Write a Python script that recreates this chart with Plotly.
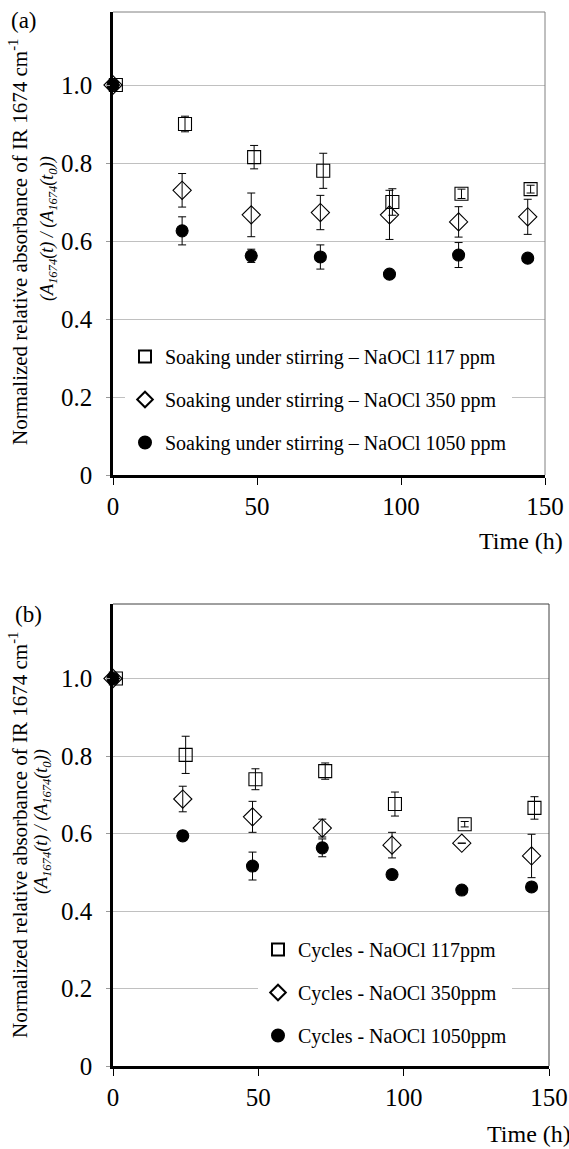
import plotly.graph_objects as go

# ---------------- data ----------------
# panel (a): soaking under stirring
a_t_sq = [1, 25, 49, 73, 97, 121, 145]
a_t = [0, 24, 48, 72, 96, 120, 144]
a_117 = [1.00, 0.90, 0.815, 0.78, 0.70, 0.721, 0.733]
a_117_err = [None, 0.02, 0.03, 0.045, 0.034, 0.012, 0.010]
a_350 = [1.00, 0.730, 0.667, 0.673, 0.667, 0.649, 0.662]
a_350_err = [None, 0.043, 0.056, 0.044, 0.063, 0.039, 0.045]
a_1050 = [1.00, 0.626, 0.562, 0.559, 0.515, 0.564, 0.556]
a_1050_err = [None, 0.036, 0.017, 0.031, None, 0.032, None]

# panel (b): cycles
b_t_sq = [1, 25, 49, 73, 97, 121, 145]
b_t = [0, 24, 48, 72, 96, 120, 144]
b_117 = [1.00, 0.803, 0.740, 0.761, 0.676, 0.624, 0.666]
b_117_err = [None, 0.048, 0.027, 0.021, 0.031, 0.007, 0.029]
b_350 = [1.00, 0.689, 0.643, 0.614, 0.570, 0.575, 0.542]
b_350_err = [None, 0.033, 0.040, 0.023, 0.033, None, 0.056]
b_1050 = [1.00, 0.594, 0.516, 0.563, 0.494, 0.454, 0.462]
b_1050_err = [None, 0.012, 0.036, 0.023, None, None, None]

a_names = ["Soaking under stirring – NaOCl 117 ppm",
           "Soaking under stirring – NaOCl 350 ppm",
           "Soaking under stirring – NaOCl 1050 ppm"]
b_names = ["Cycles - NaOCl 117ppm", "Cycles - NaOCl 350ppm", "Cycles - NaOCl 1050ppm"]

y_tickvals = [0, 0.2, 0.4, 0.6, 0.8, 1.0]
y_ticktext = ["0", "0.2", "0.4", "0.6", "0.8", "1.0"]
x_tickvals = [0, 50, 100, 150]

# ---------------- figure ----------------
W, H = 569, 1149
SERIF = "Liberation Serif, Times New Roman, serif"
fig = go.Figure()

symbols = [("square-open", 13), ("diamond-open", 14), ("circle", 12)]


def add_series(xs, ys, errs, name, sym, xa, ya, leg, grp):
    s, sz = sym
    fig.add_trace(go.Scatter(
        x=xs, y=ys, mode="markers", name=name,
        marker=dict(symbol=s, size=sz, color="black", line=dict(width=1.1, color="black")),
        error_y=dict(type="data", array=errs, symmetric=True, color="black", thickness=1, width=4),
        xaxis=xa, yaxis=ya, legend=leg, legendgroup=grp, cliponaxis=False,
    ))


add_series(a_t_sq, a_117, a_117_err, a_names[0], symbols[0], "x", "y", "legend", "a1")
add_series(a_t, a_350, a_350_err, a_names[1], symbols[1], "x", "y", "legend", "a2")
add_series(a_t, a_1050, a_1050_err, a_names[2], symbols[2], "x", "y", "legend", "a3")
add_series(b_t_sq, b_117, b_117_err, b_names[0], symbols[0], "x2", "y2", "legend2", "b1")
add_series(b_t, b_350, b_350_err, b_names[1], symbols[1], "x2", "y2", "legend2", "b2")
add_series(b_t, b_1050, b_1050_err, b_names[2], symbols[2], "x2", "y2", "legend2", "b3")


def px_x(p):
    return p / W


def px_y(p):
    return 1 - p / H


xcommon = dict(range=[0, 150], tickvals=x_tickvals, showgrid=False, zeroline=False,
               showline=True, linecolor="black", linewidth=2.5, ticks="outside",
               ticklen=7, tickwidth=1, tickcolor="black", ticklabelstandoff=0,
               automargin=False,
               tickfont=dict(family=SERIF, size=25, color="black"))
ycommon = dict(tickvals=y_tickvals, ticktext=y_ticktext, showgrid=True,
               gridcolor="#c0c0c0", gridwidth=1, zeroline=False, showline=True,
               linecolor="black", linewidth=2.5, ticks="outside", ticklen=4,
               tickwidth=1, tickcolor="#999999", ticklabelstandoff=9,
               automargin=False,
               tickfont=dict(family=SERIF, size=25, color="black"))

fig.update_layout(
    width=W, height=H, margin=dict(l=0, r=0, t=0, b=0, autoexpand=False),
    paper_bgcolor="white", plot_bgcolor="white", showlegend=True,
    xaxis=dict(domain=[px_x(113), px_x(545)], anchor="y", **xcommon),
    yaxis=dict(domain=[px_y(475), px_y(12)], anchor="x", range=[0, 463 / 390], **ycommon),
    xaxis2=dict(domain=[px_x(113), px_x(549)], anchor="y2", **xcommon),
    yaxis2=dict(domain=[px_y(1066), px_y(604)], anchor="x2", range=[0, 462 / 387.5], **ycommon),
    legend=dict(x=px_x(125), xanchor="left", y=px_y(337), yanchor="top",
                bgcolor="white", borderwidth=0, tracegroupgap=14, itemsizing="constant",
                font=dict(family=SERIF, size=20, color="black")),
    legend2=dict(x=px_x(258), xanchor="left", y=px_y(930), yanchor="top",
                 bgcolor="white", borderwidth=0, tracegroupgap=14, itemsizing="constant",
                 font=dict(family=SERIF, size=20, color="black")),
)

# top / right borders
for xr, yr, col in [("x domain", "y domain", "#808080"), ("x2 domain", "y2 domain", "#404040")]:
    fig.add_shape(type="line", xref=xr, yref=yr, x0=0, x1=1, y0=1, y1=1,
                  line=dict(color=col, width=1), layer="above")
    fig.add_shape(type="line", xref=xr, yref=yr, x0=1, x1=1, y0=0, y1=1,
                  line=dict(color=col, width=1), layer="above")

ytitle1 = "Normalized relative absorbance of IR 1674 cm<sup>-1</sup>"
ytitle2 = "<i>(A<sub>1674</sub>(t) / (A<sub>1674</sub>(t<sub>0</sub>))</i>"


def ann(text, x, y, size, angle=0, xanchor="center"):
    fig.add_annotation(text=text, x=px_x(x), y=px_y(y), xref="paper", yref="paper",
                       showarrow=False, textangle=angle, xanchor=xanchor, yanchor="middle",
                       font=dict(family=SERIF, size=size, color="black"))


ann("(a)", 24, 20, 23)
ann("(b)", 28, 614, 23)
ann(ytitle1, 19, 242, 21, -90)
ann(ytitle2, 49, 229, 18, -90)
ann(ytitle1, 18, 835, 21, -90)
ann(ytitle2, 42, 822, 18, -90)
ann("Time (h)", 521, 541, 24)
ann("Time (h)", 485, 1134, 24, xanchor="left")

fig.write_html("out.html", config={"displayModeBar": False},
               post_script="document.body.style.margin='0px';document.body.style.overflow='hidden';")
